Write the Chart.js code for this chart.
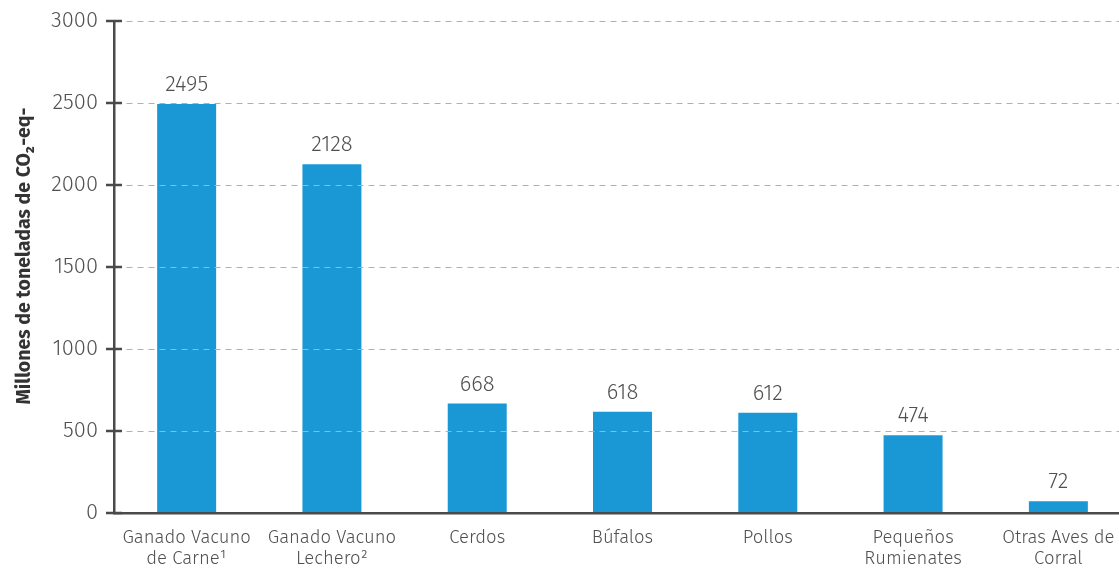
<!DOCTYPE html>
<html>
<head>
<meta charset="utf-8">
<script src="https://cdn.jsdelivr.net/npm/chart.js@4.4.0/dist/chart.umd.min.js"></script>
<style>
  html, body { margin: 0; padding: 0; background: #fff; overflow: hidden; }
  #wrap { position: relative; top: -8px; width: 1131px; height: 578px; }
</style>
</head>
<body>
<div id="wrap"><canvas id="c"></canvas></div>
<script>
// Emisiones por especie (millones de toneladas de CO2-eq)
const categories = [
  ['Ganado Vacuno', 'de Carne\u00B9'],
  ['Ganado Vacuno', 'Lechero\u00B2'],
  'Cerdos',
  'Búfalos',
  'Pollos',
  ['Pequeños', 'Rumienates'],
  ['Otras Aves de', 'Corral']
];
const emissions = [2495, 2128, 668, 618, 612, 474, 72];
const yTicks = [0, 500, 1000, 1500, 2000, 2500, 3000];
const yTitle = 'Millones de toneladas de CO\u2082-eq-';

const FONT = "'Fira Sans', 'Open Sans', sans-serif";
const TEXT = '#505050';
const AXIS = '#4a4a4a';

// Value labels above bars, y-axis title and small tick marks crossing the y axis
const overlay = {
  id: 'overlay',
  afterDatasetsDraw(chart) {
    const ctx = chart.ctx;
    const meta = chart.getDatasetMeta(0);
    ctx.save();
    ctx.fillStyle = TEXT;
    ctx.font = '300 22px ' + FONT;
    ctx.textAlign = 'center';
    ctx.textBaseline = 'middle';
    meta.data.forEach((bar, i) => {
      ctx.fillText(String(emissions[i]), bar.x, bar.y - 19);
    });
    ctx.restore();
  },
  afterDraw(chart) {
    const ctx = chart.ctx;
    const y = chart.scales.y;
    const x0 = y.right;
    ctx.save();
    ctx.strokeStyle = AXIS;
    ctx.lineWidth = 2.5;
    yTicks.forEach(v => {
      const py = Math.round(y.getPixelForValue(v));
      ctx.beginPath();
      ctx.moveTo(x0 - 8, py);
      ctx.lineTo(x0 + 8, py);
      ctx.stroke();
    });
    ctx.restore();

    ctx.save();
    ctx.translate(25, 264);
    ctx.rotate(-Math.PI / 2);
    ctx.fillStyle = '#333';
    ctx.font = 'bold 19.5px ' + FONT;
    ctx.textAlign = 'center';
    ctx.textBaseline = 'middle';
    ctx.fillText(yTitle, 0, 0);
    ctx.restore();
  }
};

new Chart(document.getElementById('c'), {
  type: 'bar',
  data: {
    labels: categories,
    datasets: [{
      data: emissions,
      backgroundColor: '#1a98d6',
      borderWidth: 0,
      barPercentage: 0.406,
      categoryPercentage: 1
    }]
  },
  options: {
    responsive: true,
    maintainAspectRatio: false,
    animation: false,
    layout: { padding: { top: 10, right: 0, left: 0, bottom: 0 } },
    plugins: { legend: { display: false }, tooltip: { enabled: false } },
    scales: {
      x: {
        grid: { display: false, drawTicks: false },
        border: { display: true, color: AXIS, width: 2.5, z: 2 },
        ticks: {
          color: TEXT,
          font: { family: FONT, size: 18.5, weight: '300', lineHeight: 1.15 },
          padding: 14,
          maxRotation: 0,
          autoSkip: false
        },
        afterFit(scale) { scale.height = 57; }
      },
      y: {
        min: 0,
        max: 3000,
        afterBuildTicks(scale) { scale.ticks = yTicks.map(v => ({ value: v })); },
        grid: {
          color: '#b0b0b0',
          lineWidth: 1,
          drawTicks: false,
          z: 1
        },
        border: { display: true, color: AXIS, width: 2.5, dash: [6, 5], z: 2 },
        ticks: {
          color: TEXT,
          font: { family: FONT, size: 22, weight: '300' },
          padding: 16,
          callback: v => String(v)
        },
        afterFit(scale) { scale.width = 114; }
      }
    }
  },
  plugins: [overlay]
});
</script>
</body>
</html>
